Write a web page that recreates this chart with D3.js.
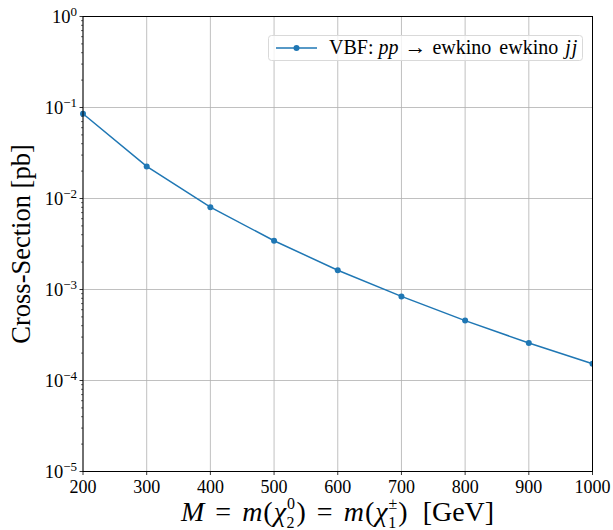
<!DOCTYPE html>
<html><head><meta charset="utf-8">
<script src="https://cdn.jsdelivr.net/npm/d3@7"></script>
<style>body{margin:0;background:#fff}svg{display:block}text{font-family:"Liberation Serif","DejaVu Serif",serif;fill:#000}</style>
</head><body><svg id="c" width="613" height="530"></svg>
<script>
const masses = [200, 300, 400, 500, 600, 700, 800, 900, 1000];
const xsec = [0.0853, 0.0225, 0.00802, 0.00343, 0.00163, 0.00084, 0.000455, 0.000258, 0.000153];
const xTicks = [200, 300, 400, 500, 600, 700, 800, 900, 1000];
const yExps = [0, -1, -2, -3, -4, -5];
const seriesLabel = "VBF";

const svg = d3.select("#c");
const L = 83, R = 592.5, T = 16.5, B = 471.5;
const x = d3.scaleLinear().domain([200, 1000]).range([L, R]);
const y = d3.scaleLog().domain([1e-5, 1]).range([B, T]);
const color = "#1f77b4";

// grid
const g = svg.append("g");
g.selectAll(".gx").data(xTicks).enter().append("line")
  .attr("x1", d => x(d)).attr("x2", d => x(d)).attr("y1", T).attr("y2", B)
  .attr("stroke", "#b0b0b0").attr("stroke-width", 0.8);
g.selectAll(".gy").data(yExps).enter().append("line")
  .attr("x1", L).attr("x2", R).attr("y1", d => y(Math.pow(10, d))).attr("y2", d => y(Math.pow(10, d)))
  .attr("stroke", "#b0b0b0").attr("stroke-width", 0.8);

// minor ticks
const minors = [];
for (let e = -5; e < 0; e++) for (let k = 2; k <= 9; k++) minors.push(k * Math.pow(10, e));
g.selectAll(".my").data(minors).enter().append("line")
  .attr("x1", L - 2).attr("x2", L).attr("y1", d => y(d)).attr("y2", d => y(d))
  .attr("stroke", "#000").attr("stroke-width", 0.6);
g.selectAll(".ty").data(yExps).enter().append("line")
  .attr("x1", L - 3.5).attr("x2", L).attr("y1", d => y(Math.pow(10, d))).attr("y2", d => y(Math.pow(10, d)))
  .attr("stroke", "#000").attr("stroke-width", 0.8);
g.selectAll(".tx").data(xTicks).enter().append("line")
  .attr("x1", d => x(d)).attr("x2", d => x(d)).attr("y1", B).attr("y2", B + 3.5)
  .attr("stroke", "#000").attr("stroke-width", 0.8);

// line + markers
svg.append("path").datum(masses.map((m, i) => [m, xsec[i]]))
  .attr("d", d3.line().x(d => x(d[0])).y(d => y(d[1])))
  .attr("fill", "none").attr("stroke", color).attr("stroke-width", 1.5);
svg.append("g").selectAll("circle").data(masses).enter().append("circle")
  .attr("cx", d => x(d)).attr("cy", (d, i) => y(xsec[i])).attr("r", 3).attr("fill", color);

// frame
svg.append("rect").attr("x", L).attr("y", T).attr("width", R - L).attr("height", B - T)
  .attr("fill", "none").attr("stroke", "#000").attr("stroke-width", 1);
svg.append("rect").attr("x", R + 0.5).attr("y", 0).attr("width", 30).attr("height", 530).attr("fill", "#fff");
svg.append("rect").attr("x", 0).attr("y", 0).attr("width", L - 4).attr("height", 530).attr("fill", "#fff");

// x tick labels
svg.selectAll(".xl").data(xTicks).enter().append("text")
  .attr("x", d => x(d)).attr("y", B + 21).attr("text-anchor", "middle")
  .attr("font-size", 18).text(d => d);
// y tick labels
yExps.forEach(e => {
  const t = svg.append("text").attr("x", L - 6).attr("y", y(Math.pow(10, e)) + 6)
    .attr("text-anchor", "end").attr("font-size", 18.5);
  t.append("tspan").text("10");
  t.append("tspan").attr("dy", -7).attr("font-size", 13).text(e === 0 ? "0" : "\u2212" + (-e));
});

// axis labels
const xl = svg.append("text").attr("x", 181).attr("y", 521).attr("font-size", 28);
function piece(txt, opts) {
  const s = xl.append("tspan").text(txt);
  if (opts && opts.it) s.attr("font-style", "italic");
  if (opts && opts.dx) s.attr("dx", opts.dx);
  if (opts && opts.dy) s.attr("dy", opts.dy);
  if (opts && opts.fs) s.attr("font-size", opts.fs);
  return s;
}
piece("M", {it: true});
piece("=", {dx: 11});
piece("m", {it: true, dx: 11});
piece("(", {dx: 1});
piece("\u03C7", {it: true, dx: 1});
piece("0", {fs: 16, dy: -12, dx: 1});
piece("2", {fs: 16, dy: 19, dx: -8.5});
piece(")", {dy: -7, dx: 2});
piece("=", {dx: 11});
piece("m", {it: true, dx: 11});
piece("(", {dx: 1});
piece("\u03C7", {it: true, dx: 1});
piece("\u00B1", {fs: 16, dy: -12, dx: 1});
piece("1", {fs: 16, dy: 19, dx: -9});
piece(")", {dy: -7, dx: 2});
piece("[GeV]", {dx: 15});

svg.append("text").attr("transform", `translate(30,${(T + B) / 2}) rotate(-90)`)
  .attr("text-anchor", "middle").attr("font-size", 26.5).text("Cross-Section [pb]");

// legend
const lg = svg.append("g");
lg.append("rect").attr("x", 268.5).attr("y", 35.5).attr("width", 314).attr("height", 25).attr("rx", 3)
  .attr("fill", "#fff").attr("fill-opacity", 0.8).attr("stroke", "#d9d9d9").attr("stroke-width", 1);
lg.append("line").attr("x1", 276).attr("x2", 317).attr("y1", 48).attr("y2", 48)
  .attr("stroke", color).attr("stroke-width", 1.5);
lg.append("circle").attr("cx", 296.5).attr("cy", 48).attr("r", 3).attr("fill", color);
const lt = lg.append("text").attr("x", 329).attr("y", 54).attr("font-size", 20);
lt.append("tspan").text(seriesLabel + ": ");
lt.append("tspan").attr("font-style", "italic").text("pp");
lt.append("tspan").attr("dx", 6).attr("font-size", 22).text("\u2192");
lt.append("tspan").attr("dx", 6).attr("word-spacing", 3).text("ewkino ewkino");
lt.append("tspan").attr("dx", 7).attr("font-style", "italic").attr("letter-spacing", 1).text("jj");
</script></body></html>
